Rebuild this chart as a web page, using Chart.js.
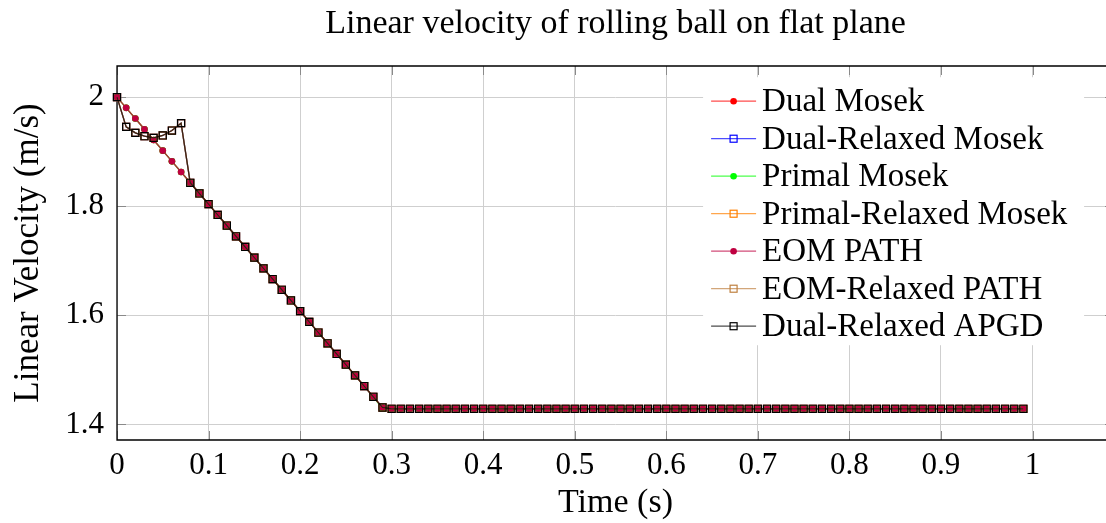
<!DOCTYPE html>
<html>
<head>
<meta charset="utf-8">
<script src="https://cdn.jsdelivr.net/npm/chart.js@4.4.1/dist/chart.umd.min.js"></script>
<style>
html,body{margin:0;padding:0;overflow:hidden;background:#fff;width:1106px;height:523px}
#wrap{width:1114px;height:523px;position:absolute;left:0;top:0;background:#fff}
#c{display:block}
</style>
</head>
<body>
<div id="wrap"><canvas id="c" width="1114" height="523" style="width:1114px;height:523px"></canvas></div>
<script>
// ---- data ----
const chartTitle = 'Linear velocity of rolling ball on flat plane';
const xAxisTitle = 'Time (s)';
const yAxisTitle = 'Linear Velocity (m/s)';

const time = [
  0,0.01,0.02,0.03,0.04,0.05,0.06,0.07,0.08,0.09,
  0.1,0.11,0.12,0.13,0.14,0.15,0.16,0.17,0.18,0.19,
  0.2,0.21,0.22,0.23,0.24,0.25,0.26,0.27,0.28,0.29,
  0.3,0.31,0.32,0.33,0.34,0.35,0.36,0.37,0.38,0.39,
  0.4,0.41,0.42,0.43,0.44,0.45,0.46,0.47,0.48,0.49,
  0.5,0.51,0.52,0.53,0.54,0.55,0.56,0.57,0.58,0.59,
  0.6,0.61,0.62,0.63,0.64,0.65,0.66,0.67,0.68,0.69,
  0.7,0.71,0.72,0.73,0.74,0.75,0.76,0.77,0.78,0.79,
  0.8,0.81,0.82,0.83,0.84,0.85,0.86,0.87,0.88,0.89,
  0.9,0.91,0.92,0.93,0.94,0.95,0.96,0.97,0.98,0.99
];

// Dual Mosek / EOM PATH
const velocityExact = [
  2.0,1.9804,1.9608,1.9411,1.9215,1.9019,1.8823,1.8627,1.843,1.8234,
  1.8038,1.7842,1.7646,1.7449,1.7253,1.7057,1.6861,1.6665,1.6468,1.6272,
  1.6076,1.588,1.5684,1.5487,1.5291,1.5095,1.4899,1.4703,1.4506,1.431,
  1.4286,1.4286,1.4286,1.4286,1.4286,1.4286,1.4286,1.4286,1.4286,1.4286,
  1.4286,1.4286,1.4286,1.4286,1.4286,1.4286,1.4286,1.4286,1.4286,1.4286,
  1.4286,1.4286,1.4286,1.4286,1.4286,1.4286,1.4286,1.4286,1.4286,1.4286,
  1.4286,1.4286,1.4286,1.4286,1.4286,1.4286,1.4286,1.4286,1.4286,1.4286,
  1.4286,1.4286,1.4286,1.4286,1.4286,1.4286,1.4286,1.4286,1.4286,1.4286,
  1.4286,1.4286,1.4286,1.4286,1.4286,1.4286,1.4286,1.4286,1.4286,1.4286,
  1.4286,1.4286,1.4286,1.4286,1.4286,1.4286,1.4286,1.4286,1.4286,1.4286
];

// Primal Mosek
const velocityPrimal = [
  2.0,1.9804,1.9608,1.9411,1.9215,1.9019,1.8823,1.8627,1.843,1.8234,
  1.8038,1.7842,1.7646,1.7449,1.7253,1.7057,1.6861,1.6665,1.6468,1.6272,
  1.6076,1.588,1.5684,1.5487,1.5291,1.5095,1.4899,1.4703,1.4506,1.4286,
  1.4286,1.4286,1.4286,1.4286,1.4286,1.4286,1.4286,1.4286,1.4286,1.4286,
  1.4286,1.4286,1.4286,1.4286,1.4286,1.4286,1.4286,1.4286,1.4286,1.4286,
  1.4286,1.4286,1.4286,1.4286,1.4286,1.4286,1.4286,1.4286,1.4286,1.4286,
  1.4286,1.4286,1.4286,1.4286,1.4286,1.4286,1.4286,1.4286,1.4286,1.4286,
  1.4286,1.4286,1.4286,1.4286,1.4286,1.4286,1.4286,1.4286,1.4286,1.4286,
  1.4286,1.4286,1.4286,1.4286,1.4286,1.4286,1.4286,1.4286,1.4286,1.4286,
  1.4286,1.4286,1.4286,1.4286,1.4286,1.4286,1.4286,1.4286,1.4286,1.4286
];

// relaxed solvers (Dual-Relaxed Mosek, Primal-Relaxed Mosek, EOM-Relaxed PATH, Dual-Relaxed APGD)
const velocityRelaxed = [
  2.0,1.9455,1.9345,1.9284,1.9254,1.9297,1.9388,1.9523,1.843,1.8234,
  1.8038,1.7842,1.7646,1.7449,1.7253,1.7057,1.6861,1.6665,1.6468,1.6272,
  1.6076,1.588,1.5684,1.5487,1.5291,1.5095,1.4899,1.4703,1.4506,1.431,
  1.4286,1.4286,1.4286,1.4286,1.4286,1.4286,1.4286,1.4286,1.4286,1.4286,
  1.4286,1.4286,1.4286,1.4286,1.4286,1.4286,1.4286,1.4286,1.4286,1.4286,
  1.4286,1.4286,1.4286,1.4286,1.4286,1.4286,1.4286,1.4286,1.4286,1.4286,
  1.4286,1.4286,1.4286,1.4286,1.4286,1.4286,1.4286,1.4286,1.4286,1.4286,
  1.4286,1.4286,1.4286,1.4286,1.4286,1.4286,1.4286,1.4286,1.4286,1.4286,
  1.4286,1.4286,1.4286,1.4286,1.4286,1.4286,1.4286,1.4286,1.4286,1.4286,
  1.4286,1.4286,1.4286,1.4286,1.4286,1.4286,1.4286,1.4286,1.4286,1.4286
];

const seriesNames = ['Dual Mosek','Dual-Relaxed Mosek','Primal Mosek','Primal-Relaxed Mosek','EOM PATH','EOM-Relaxed PATH','Dual-Relaxed APGD'];
const seriesValues = [velocityExact, velocityRelaxed, velocityPrimal, velocityRelaxed, velocityExact, velocityRelaxed, velocityRelaxed];

const xTicks = [0,0.1,0.2,0.3,0.4,0.5,0.6,0.7,0.8,0.9,1];
const yTicks = [1.4,1.6,1.8,2];

// ---- styles ----
const seriesColors = [[255,0,0],[0,0,255],[0,255,0],[255,128,0],[191,0,64],[191,128,64],[0,0,0]];
const seriesMarkers = ['circle','rect','circle','rect','circle','rect','rect'];
const FONT = "'Liberation Serif', 'Times New Roman', serif";
Chart.defaults.font.family = FONT;
Chart.defaults.color = '#000';

const rgba = (c, a) => `rgba(${c[0]},${c[1]},${c[2]},${a})`;

const datasets = seriesNames.map((name, i) => {
  const col = seriesColors[i];
  const isCircle = seriesMarkers[i] === 'circle';
  return {
    label: name,
    data: time.map((t, k) => ({x: t, y: seriesValues[i][k]})),
    borderColor: rgba(col, 0.7),
    borderWidth: 1.3,
    pointStyle: seriesMarkers[i],
    pointRadius: isCircle ? 3.3 : 5,
    pointBorderWidth: isCircle ? 0 : 1.2,
    pointBackgroundColor: isCircle ? rgba(col, 1) : 'rgba(0,0,0,0)',
    pointBorderColor: rgba(col, 1),
    tension: 0,
    clip: false,
    order: seriesNames.length - 1 - i,
    _mk: {col, isCircle}
  };
});

const frameAndLegend = {
  id: 'frameAndLegend',
  beforeDatasetsDraw(chart) {
    const {ctx, chartArea: a, scales: {x, y}} = chart;
    ctx.save();
    ctx.strokeStyle = '#8a8a8a';
    ctx.lineWidth = 1;
    const L = 9;
    x.ticks.forEach(t => {
      const px = Math.round(x.getPixelForValue(t.value)) + 0.5;
      ctx.beginPath();
      ctx.moveTo(px, a.bottom); ctx.lineTo(px, a.bottom - L);
      ctx.moveTo(px, a.top); ctx.lineTo(px, a.top + L);
      ctx.stroke();
    });
    y.ticks.forEach(t => {
      const py = Math.round(y.getPixelForValue(t.value)) + 0.5;
      ctx.beginPath();
      ctx.moveTo(a.left, py); ctx.lineTo(a.left + L, py);
      ctx.moveTo(a.right, py); ctx.lineTo(a.right - L, py);
      ctx.stroke();
    });
    ctx.strokeStyle = '#000';
    ctx.lineWidth = 1.3;
    ctx.beginPath();
    ctx.moveTo(a.right, a.top); ctx.lineTo(a.left, a.top);
    ctx.lineTo(a.left, a.bottom); ctx.lineTo(a.right, a.bottom);
    ctx.lineTo(a.right, a.top);
    ctx.stroke();
    ctx.restore();
  },
  afterDatasetsDraw(chart) {
    const {ctx, chartArea: a} = chart;
    const w = a.right - a.left, h = a.bottom - a.top;
    const boxR = a.right - 0.03 * w;
    const boxT = a.top + 0.03 * h;
    const boxW = 381, boxH = 268;
    const boxL = boxR - boxW;
    ctx.save();
    ctx.fillStyle = '#fff';
    ctx.fillRect(boxL, boxT, boxW, boxH);
    ctx.font = `33px ${FONT}`;
    ctx.textBaseline = 'alphabetic';
    ctx.textAlign = 'left';
    chart.data.datasets.forEach((ds, i) => {
      const cy = boxT + 24 + 37.5 * i;
      const {col, isCircle} = ds._mk;
      ctx.strokeStyle = rgba(col, 0.7);
      ctx.lineWidth = 1.3;
      ctx.beginPath();
      ctx.moveTo(boxL + 8, cy); ctx.lineTo(boxL + 53, cy);
      ctx.stroke();
      const mx = boxL + 30.5;
      if (isCircle) {
        ctx.fillStyle = rgba(col, 1);
        ctx.beginPath(); ctx.arc(mx, cy, 3.3, 0, Math.PI * 2); ctx.fill();
      } else {
        ctx.strokeStyle = rgba(col, 1);
        ctx.lineWidth = 1.2;
        ctx.strokeRect(mx - 3.5, cy - 3.5, 7, 7);
      }
      ctx.fillStyle = '#000';
      ctx.fillText(ds.label, boxL + 59, cy + 10);
    });
    // chart title, centred over the plot area (pgfplots style)
    ctx.font = `34px ${FONT}`;
    ctx.textAlign = 'center';
    ctx.textBaseline = 'alphabetic';
    ctx.fillStyle = '#000';
    ctx.fillText(chartTitle, (a.left + a.right) / 2, 32.5);
    ctx.restore();
  }
};

new Chart(document.getElementById('c'), {
  type: 'line',
  data: {datasets},
  plugins: [frameAndLegend],
  options: {
    responsive: false,
    maintainAspectRatio: false,
    animation: false,
    devicePixelRatio: 1,
    layout: {padding: {top: 66, left: 0, right: 0, bottom: 0}, autoPadding: false},
    plugins: {
      legend: {display: false},
      tooltip: {enabled: false},
      title: {display: false}
    },
    scales: {
      x: {
        type: 'linear',
        min: 0,
        max: 1.089,
        afterBuildTicks: s => { s.ticks = xTicks.map(v => ({value: v})); },
        afterFit: s => { s.height = 83; },
        ticks: {
          font: {size: 31},
          color: '#000',
          padding: 7,
          maxRotation: 0,
          callback: v => String(Number(v.toFixed(2)))
        },
        grid: {color: '#cfcfcf', lineWidth: 1, drawTicks: false},
        border: {display: false},
        title: {display: true, text: xAxisTitle, color: '#000', font: {size: 34, lineHeight: 1.05}, padding: {top: 0, bottom: 2}}
      },
      y: {
        type: 'linear',
        min: 1.3714,
        max: 2.0571,
        afterBuildTicks: s => { s.ticks = yTicks.map(v => ({value: v})); },
        afterFit: s => { s.width = 117; },
        ticks: {
          font: {size: 31},
          color: '#000',
          padding: 13,
          callback: v => String(Number(v.toFixed(2)))
        },
        grid: {color: '#cfcfcf', lineWidth: 1, drawTicks: false},
        border: {display: false},
        title: {display: true, text: yAxisTitle, color: '#000', font: {size: 35}, padding: {top: 8, bottom: 0}}
      }
    }
  }
});
</script>
</body>
</html>
